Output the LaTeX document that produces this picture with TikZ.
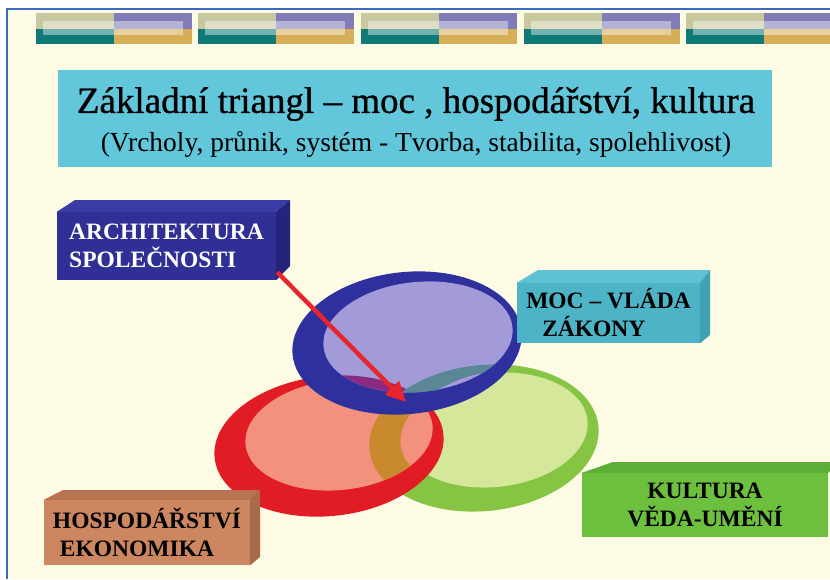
\documentclass[tikz,border=0pt]{standalone}
\usepackage{fontspec}
\setmainfont{Liberation Serif}
\newfontfamily\titlefont{Liberation Serif}[FakeBold=0.8]
\usetikzlibrary{arrows.meta,calc}
\definecolor{bgcream}{HTML}{FDFBE4}
\definecolor{framecol}{HTML}{3A6BC0}
\definecolor{bkhaki}{HTML}{C9C79E}
\definecolor{bteal}{HTML}{0F7A77}
\definecolor{bpurple}{HTML}{7F7CB8}
\definecolor{bgold}{HTML}{D6AE58}
\definecolor{titlecyan}{HTML}{62C7DA}
\definecolor{archfront}{HTML}{2F2F96}
\definecolor{archtop}{HTML}{3B3BA6}
\definecolor{archside}{HTML}{24247C}
\definecolor{mocfront}{HTML}{4CB4C6}
\definecolor{moctop}{HTML}{5EC2D2}
\definecolor{mocside}{HTML}{3FA2B3}
\definecolor{hospfront}{HTML}{CC8660}
\definecolor{hosptop}{HTML}{B87450}
\definecolor{hospside}{HTML}{A86A48}
\definecolor{kultfront}{HTML}{6DBF3E}
\definecolor{kulttop}{HTML}{5CAE36}
\definecolor{blueout}{HTML}{2E309E}
\definecolor{bluein}{HTML}{A39BD8}
\definecolor{redout}{HTML}{E21C24}
\definecolor{redin}{HTML}{F2917E}
\definecolor{greenout}{HTML}{86C443}
\definecolor{greenin}{HTML}{D5E79A}
\definecolor{overlaporange}{HTML}{C98A2E}
\definecolor{overlapmagenta}{HTML}{8A2A82}
\definecolor{overlapteal}{HTML}{5A8696}
\definecolor{arrowred}{HTML}{E8252A}
\tikzset{
  frontbox/.style={draw=none, inner sep=0pt, font=\fontsize{23.5}{28}\selectfont\bfseries},
  blocktop/.style={fill=white, fill opacity=0.42},
}
\begin{document}
\begin{tikzpicture}[x=1pt,y=-1pt]
\useasboundingbox (0,0) rectangle (830,579);
\clip (0,0) rectangle (830,579);
\fill[white] (0,0) rectangle (830,579);
\fill[bgcream] (7,9) rectangle (830,579);
\draw[framecol, line width=1.3pt] (7,579) -- (7,9) -- (830,9);

% decorative blocks
\foreach \x in {36,198,361,524,686}{
  \fill[bkhaki] (\x,13) rectangle ++(78,16);
  \fill[bteal] (\x,29) rectangle ++(78,15);
  \fill[bpurple] (\x+78,13) rectangle ++(78,16);
  \fill[bgold] (\x+78,29) rectangle ++(78,15);
  \fill[blocktop] (\x+7,21) rectangle ++(140,14);
}

% title
\fill[titlecyan] (58,70) rectangle (772,167);
\node (title) at (416,104) {\titlefont\fontsize{37}{40}\selectfont Základní triangl – moc , hospodářství, kultura};
\node (subtitle) at (416,145) {\fontsize{27.5}{30}\selectfont (Vrcholy, průnik, systém - Tvorba, stabilita, spolehlivost)};

% ellipses
\fill[greenout, rotate around={6:(484,438)}] (484,438) ellipse [x radius=115, y radius=73];
\fill[greenin, rotate around={6:(494,430)}] (494,430) ellipse [x radius=94, y radius=57];
\fill[redout, rotate around={6:(329,446)}] (329,446) ellipse [x radius=115, y radius=70];
\fill[redin, rotate around={6:(339,435)}] (339,435) ellipse [x radius=94, y radius=55];
\begin{scope}
  \clip[rotate around={6:(339,435)}] (339,435) ellipse [x radius=94, y radius=55];
  \fill[overlaporange, even odd rule]
    [rotate around={6:(484,438)}] (484,438) ellipse [x radius=115, y radius=73]
    [rotate around={6:(494,430)}] (494,430) ellipse [x radius=94, y radius=57];
\end{scope}
\fill[blueout, rotate around={6:(407,343)}] (407,343) ellipse [x radius=115, y radius=71];
\fill[bluein, rotate around={6:(418,337)}] (418,337) ellipse [x radius=95, y radius=55];
\begin{scope}
  \clip[rotate around={6:(418,337)}] (418,337) ellipse [x radius=95, y radius=55];
  \fill[overlapmagenta, rotate around={6:(329,446)}] (329,446) ellipse [x radius=115, y radius=70];
  \fill[overlapteal, even odd rule]
    [rotate around={6:(484,438)}] (484,438) ellipse [x radius=115, y radius=73]
    [rotate around={6:(494,430)}] (494,430) ellipse [x radius=94, y radius=57];
\end{scope}

% boxes
\node[frontbox, fill=archfront, text=white, minimum width=219, minimum height=68, align=left] (arch) at (166.5,246) {ARCHITEKTURA\\SPOLEČNOSTI};
\fill[archtop] (arch.north west) -- (75,200) -- (290,200) -- (arch.north east) -- cycle;
\fill[archside] (arch.north east) -- (290,200) -- (290,266) -- (arch.south east) -- cycle;

\node[frontbox, fill=mocfront, text=black, minimum width=183, minimum height=60, align=left] (moc) at (608.5,313) {MOC – VLÁDA\\\hspace*{16pt}ZÁKONY};
\fill[moctop] (moc.north west) -- (538,270) -- (710,270) -- (moc.north east) -- cycle;
\fill[mocside] (moc.north east) -- (710,270) -- (710,335) -- (moc.south east) -- cycle;

\node[frontbox, fill=hospfront, text=black, minimum width=206, minimum height=65, align=left] (hosp) at (147,532.5) {HOSPODÁŘSTVÍ\\\hspace*{7pt}EKONOMIKA};
\fill[hosptop] (hosp.north west) -- (63,490) -- (260,490) -- (hosp.north east) -- cycle;
\fill[hospside] (hosp.north east) -- (260,490) -- (260,557) -- (hosp.south east) -- cycle;

\node[frontbox, fill=kultfront, text=black, minimum width=246, minimum height=64, align=center] (kult) at (705,505) {KULTURA\\VĚDA-UMĚNÍ};
\fill[kulttop] (kult.north west) -- (613,462) -- (840,462) -- (kult.north east) -- cycle;

% arrow
\coordinate (atip) at (406,402);
\draw[arrowred, line width=4.4pt, -{Triangle[length=20pt,width=19pt]}] ([shift={(1,-8)}]arch.south east) -- (atip);
\end{tikzpicture}
\end{document}
